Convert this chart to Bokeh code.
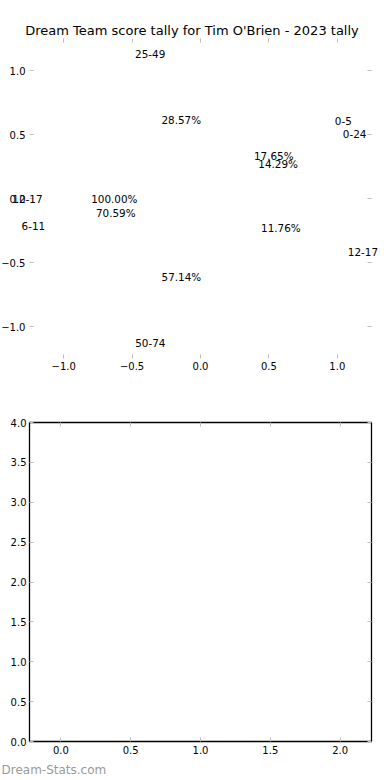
import math
from bokeh.plotting import figure
from bokeh.models import Range1d, FixedTicker, LinearAxis, LabelSet, ColumnDataSource, Title
from bokeh.embed import file_html
from bokeh.resources import INLINE
from bokeh.core.properties import value

# ---------------- data ----------------
title_text = "Dream Team score tally for Tim O'Brien - 2023 tally"

pie1_labels = ["0-24", "25-49", "50-74"]
pie1_pct = [14.29, 28.57, 57.14]

pie2_labels = ["0-5", "6-11", "12-17"]
pie2_pct = [17.65, 70.59, 11.76]

pie3_labels = ["12-17"]
pie3_pct = [100.00]

top_ticks = [-1.0, -0.5, 0.0, 0.5, 1.0]
top_tick_labels = ["\u22121.0", "\u22120.5", "0.0", "0.5", "1.0"]

bottom_x_ticks = [0.0, 0.5, 1.0, 1.5, 2.0]
bottom_x_tick_labels = ["0.0", "0.5", "1.0", "1.5", "2.0"]
bottom_y_ticks = [0.0, 0.5, 1.0, 1.5, 2.0, 2.5, 3.0, 3.5, 4.0]
bottom_y_tick_labels = ["0.0", "0.5", "1.0", "1.5", "2.0", "2.5", "3.0", "3.5", "4.0"]

watermark_text = "Dream-Stats.com"

# ---------------- styling / layout constants ----------------
FONT = "DejaVu Sans"
PIE_R = 1.05
LABEL_DIST = 1.1
PCT_DIST = 0.6
TICK_COLOR = "#bdbdbd"
TICK_LEN = 4       # px
LEFT = 29          # px from page left to the axes box
BOX_RIGHT = 371    # px from page left to right edge of axes box
W = 383
LIM = 1.25         # pie axes limits


def pie_texts(labels, pcts):
    total = float(sum(pcts))
    cum = 0.0
    left = dict(x=[], y=[], text=[])
    right = dict(x=[], y=[], text=[])
    pct = dict(x=[], y=[], text=[])
    for lab, v in zip(labels, pcts):
        frac = v / total
        th = 2 * math.pi * (cum + frac / 2.0)
        cum += frac
        x = PIE_R * LABEL_DIST * math.cos(th)
        y = PIE_R * LABEL_DIST * math.sin(th)
        d = left if x > 0 else right
        d["x"].append(x)
        d["y"].append(y)
        d["text"].append(lab)
        pct["x"].append(PIE_R * PCT_DIST * math.cos(th))
        pct["y"].append(PIE_R * PCT_DIST * math.sin(th))
        pct["text"].append("%.2f%%" % v)
    return left, right, pct


def style_axis(ax, ticks, labels, show_labels=True):
    ax.ticker = FixedTicker(ticks=ticks)
    ax.major_tick_in = TICK_LEN
    ax.major_tick_out = 0
    ax.minor_tick_in = 0
    ax.minor_tick_out = 0
    ax.major_tick_line_color = TICK_COLOR
    ax.major_tick_line_width = 1
    ax.axis_line_color = None
    ax.major_label_text_font = FONT
    ax.major_label_text_color = "black"
    if show_labels:
        ax.major_label_overrides = {t: s for t, s in zip(ticks, labels)}
        ax.major_label_text_font_size = "10px"
        ax.major_label_standoff = 3
    else:
        ax.major_label_overrides = {t: "" for t in ticks}
        ax.major_label_text_font_size = "0px"
        ax.major_label_standoff = 0


# ---------------- top figure (pies, labels only) ----------------
# The frame spans the whole canvas width so that pie labels lying outside
# the +-1.25 box are not clipped; the y ticks sit at x = +-1.25.
px_per_unit = (BOX_RIGHT - LEFT) / (2 * LIM)
x0 = -LIM - LEFT / px_per_unit
x1 = LIM + (W - BOX_RIGHT) / px_per_unit
tick_len_data = TICK_LEN / px_per_unit

p1 = figure(width=W, height=388, output_backend="svg", toolbar_location=None,
            x_range=Range1d(x0, x1), y_range=Range1d(-LIM, LIM),
            x_axis_location="below", y_axis_location=None,
            min_border_left=0, min_border_right=0, min_border_top=38,
            min_border_bottom=30)
p1.title.text = title_text
p1.title.align = "center"
p1.title.text_font = FONT
p1.title.text_font_size = "13px"
p1.title.text_font_style = "normal"
p1.title.text_color = "black"
p1.title.standoff = 2
p1.outline_line_color = None
p1.grid.visible = False

style_axis(p1.xaxis[0], top_ticks, top_tick_labels)
ax_top = LinearAxis()
style_axis(ax_top, top_ticks, top_tick_labels, show_labels=False)
p1.add_layout(ax_top, "above")

# y ticks on both sides of the +-1.25 box, and the left tick labels
n = len(top_ticks)
p1.segment(x0=[-LIM] * n, x1=[-LIM + tick_len_data] * n, y0=top_ticks, y1=top_ticks,
           line_color=TICK_COLOR, line_width=1)
p1.segment(x0=[LIM - tick_len_data] * n, x1=[LIM] * n, y0=top_ticks, y1=top_ticks,
           line_color=TICK_COLOR, line_width=1)
p1.add_layout(LabelSet(x="x", y="y", text="text",
                       source=ColumnDataSource(dict(x=[-LIM] * n, y=top_ticks,
                                                    text=top_tick_labels)),
                       x_offset=-4, text_align="right", text_baseline="middle",
                       text_font=value(FONT), text_font_size=value("10px"),
                       text_color="black"))

for labs, pcts in ((pie1_labels, pie1_pct), (pie2_labels, pie2_pct), (pie3_labels, pie3_pct)):
    left_d, right_d, pct_d = pie_texts(labs, pcts)
    for d, align in ((left_d, "left"), (right_d, "right"), (pct_d, "center")):
        if not d["x"]:
            continue
        p1.add_layout(LabelSet(x="x", y="y", text="text", source=ColumnDataSource(d),
                               text_align=align, text_baseline="middle",
                               text_font=value(FONT), text_font_size=value("10.4px"),
                               text_color="black"))

# ---------------- bottom figure (empty axes) ----------------
p2 = figure(width=W, height=392, output_backend="svg", toolbar_location=None,
            x_range=Range1d(-0.225, 2.225), y_range=Range1d(0, 4),
            min_border_left=LEFT, min_border_right=W - BOX_RIGHT, min_border_top=34,
            min_border_bottom=39)
p2.outline_line_color = "black"
p2.outline_line_width = 1.3
p2.grid.visible = False
style_axis(p2.xaxis[0], bottom_x_ticks, bottom_x_tick_labels)
p2.xaxis[0].major_label_standoff = 4
style_axis(p2.yaxis[0], bottom_y_ticks, bottom_y_tick_labels)
ax2_top = LinearAxis()
style_axis(ax2_top, bottom_x_ticks, bottom_x_tick_labels, show_labels=False)
p2.add_layout(ax2_top, "above")
ax2_right = LinearAxis()
style_axis(ax2_right, bottom_y_ticks, bottom_y_tick_labels, show_labels=False)
p2.add_layout(ax2_right, "right")

wm = Title(text=watermark_text, align="left", offset=-(LEFT - 1),
           text_font=FONT, text_font_size="12px", text_font_style="normal",
           text_color="#9a9a9a", standoff=8)
p2.add_layout(wm, "below")

# two independent roots stacked on the page (no frame alignment between them)
open("out.html", "w").write(file_html([p1, p2], INLINE))
